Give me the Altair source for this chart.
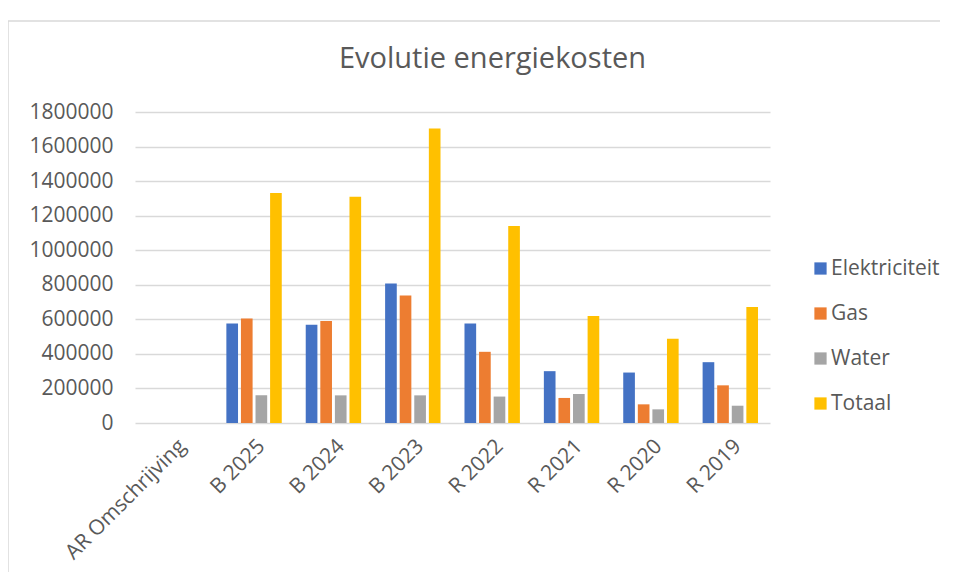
import altair as alt
import pandas as pd

categories = ["AR Omschrijving", "B 2025", "B 2024", "B 2023", "R 2022", "R 2021", "R 2020", "R 2019"]
series = ["Elektriciteit", "Gas", "Water", "Totaal"]
colors = ["#4472C4", "#ED7D31", "#A5A5A5", "#FFC000"]

# values per series, for categories B 2025 .. R 2019 (AR Omschrijving has no data)
elektriciteit = [576000, 568000, 808000, 576000, 300000, 292000, 352000]
gas = [605000, 591000, 738000, 412000, 145000, 108000, 218000]
water = [160000, 160000, 160000, 153000, 168000, 79000, 100000]
totaal = [1331000, 1310000, 1704000, 1140000, 620000, 487000, 671000]

rows = []
for name, vals in zip(series, [elektriciteit, gas, water, totaal]):
    for cat, v in zip(categories[1:], vals):
        rows.append({"cat": cat, "serie": name, "value": v})
df = pd.DataFrame(rows)

txt = "#595959"
font = "Open Sans"

bars = alt.Chart(df).mark_bar().encode(
    x=alt.X("cat:N", sort=categories,
            scale=alt.Scale(domain=categories, paddingInner=0.302, paddingOuter=0.151),
            axis=alt.Axis(title=None, labelAngle=-45, labelFontSize=21, labelColor=txt,
                          labelFont=font, domain=False, ticks=False, labelPadding=12,
                          grid=False)),
    xOffset=alt.XOffset("serie:N", sort=series,
                        scale=alt.Scale(domain=series, paddingInner=0.2, paddingOuter=0)),
    y=alt.Y("value:Q",
            scale=alt.Scale(domain=[0, 1800000]),
            axis=alt.Axis(title=None, values=list(range(0, 1800001, 200000)), format="d",
                          labelFontSize=21, labelColor=txt, labelFont=font,
                          domain=False, ticks=False, labelPadding=22,
                          gridColor="#D9D9D9", gridWidth=1.5)),
    color=alt.Color("serie:N", sort=series,
                    scale=alt.Scale(domain=series, range=colors),
                    legend=alt.Legend(title=None, orient="none", legendX=675, legendY=146,
                                      symbolType="square", symbolSize=150, symbolStrokeWidth=0,
                                      labelFontSize=21, labelColor=txt, labelFont=font,
                                      rowPadding=23, labelOffset=0)),
)

border = alt.Chart(pd.DataFrame({"a": [0]})).mark_rule(color="#D9D9D9", strokeWidth=1.5).encode(
    x=alt.value(-127), y=alt.value(-91), y2=alt.value(460)
)
border_top = alt.Chart(pd.DataFrame({"a": [0]})).mark_rule(color="#D9D9D9", strokeWidth=1.5).encode(
    x=alt.value(-127), x2=alt.value(805), y=alt.value(-91)
)

chart = alt.layer(bars, border, border_top).properties(
    width=635,
    height=311,
    autosize=alt.AutoSizeParams(type="none"),
    padding={"left": 127, "top": 104, "right": 178, "bottom": 150},
    title=alt.TitleParams("Evolutie energiekosten", fontSize=29, font=font, fontWeight="normal",
                          color=txt, anchor="middle", offset=-54, dx=40),
).configure_view(stroke=None)

chart.save("out.html", embed_options={"renderer": "svg", "actions": False})
